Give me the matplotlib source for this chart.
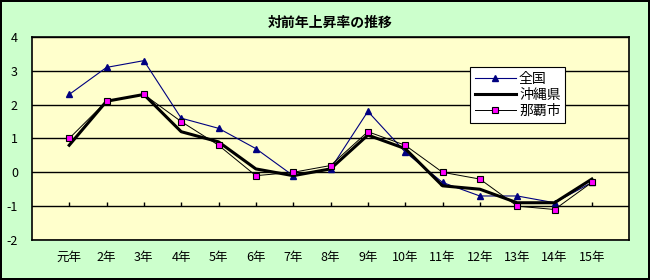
import numpy as np
import matplotlib.pyplot as plt

plt.rcParams['font.family'] = ['Noto Sans CJK JP', 'DejaVu Sans']

years = ['元年', '2年', '3年', '4年', '5年', '6年', '7年', '8年',
         '9年', '10年', '11年', '12年', '13年', '14年', '15年']
zenkoku = [2.3, 3.1, 3.3, 1.6, 1.3, 0.7, -0.1, 0.1, 1.8, 0.6, -0.3, -0.7, -0.7, -0.9, -0.3]
okinawa = [0.8, 2.1, 2.3, 1.2, 0.9, 0.1, -0.1, 0.1, 1.1, 0.7, -0.4, -0.5, -0.9, -0.9, -0.2]
naha = [1.0, 2.1, 2.3, 1.5, 0.8, -0.1, 0.0, 0.2, 1.2, 0.8, 0.0, -0.2, -1.0, -1.1, -0.3]

x = np.arange(len(years))

fig = plt.figure(figsize=(6.5, 2.8), dpi=100, facecolor='#CCFFCC',
                 edgecolor='black', linewidth=1.5)
ax = fig.add_axes([0.049, 0.143, 0.919, 0.725], facecolor='#FFFFCC')

# lines
ax.plot(x, zenkoku, color='#000080', lw=0.8, marker='^', ms=5,
        mfc='#000080', mec='#000080', label='全国', zorder=3)
ax.plot(x, okinawa, color='black', lw=2.2, label='沖縄県', zorder=4)
ax.plot(x, naha, color='black', lw=0.7, marker='s', ms=5,
        mfc='#FF00FF', mec='black', mew=0.8, label='那覇市', zorder=5)

ax.set_xlim(-1, len(years))
ax.set_ylim(-2, 4)
ax.set_yticks(range(-2, 5))
ax.set_yticklabels([str(v) for v in range(-2, 5)], fontsize=9)
ax.yaxis.grid(True, color='black', lw=1)
ax.set_axisbelow(True)
ax.tick_params(axis='y', length=0, pad=10)

# category labels at the bottom, tick marks on the -1 line
ax.set_xticks(x)
ax.set_xticklabels(years, fontsize=9)
ax.tick_params(axis='x', length=0, pad=8)
sec = ax.secondary_xaxis(1 / 6)
sec.set_xticks(x)
sec.set_xticklabels([])
sec.tick_params(axis='x', direction='in', length=3, width=1, color='black')
sec.spines['bottom'].set_visible(False)

for s in ax.spines.values():
    s.set_color('black')
    s.set_linewidth(1.2)

ax.set_title('対前年上昇率の推移', fontsize=10, fontweight='bold', pad=7)

leg = ax.legend(loc='upper left', bbox_to_anchor=(0.733, 0.852), fontsize=10,
                frameon=True, fancybox=False, edgecolor='black',
                framealpha=1, facecolor='white', handlelength=3.0,
                borderpad=0.35, labelspacing=0.15, handletextpad=0.2,
                borderaxespad=0)
leg.get_frame().set_linewidth(0.8)

fig.savefig('out.png', dpi=100, facecolor=fig.get_facecolor(),
            edgecolor=fig.get_edgecolor())
